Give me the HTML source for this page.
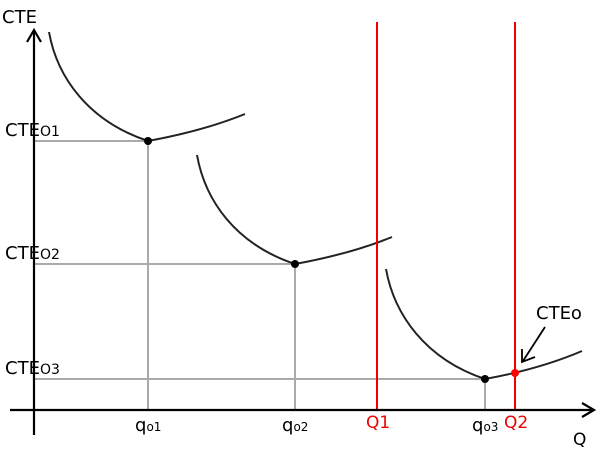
<!DOCTYPE html>
<html><head><meta charset="utf-8"><style>
body{margin:0;background:#fff}
svg{display:block}
text{font-family:"DejaVu Sans","Liberation Sans",sans-serif;}
</style></head><body>
<svg id="chart" width="600" height="450" viewBox="0 0 600 450">
<g id="grid"></g>
<g id="marks"></g>
<g id="axes">
  <line x1="34" y1="435" x2="34" y2="30" stroke="#000" stroke-width="2.2"/>
  <polyline points="27,42 34,30 41,42" fill="none" stroke="#000" stroke-width="2.2"/>
  <line x1="10" y1="410" x2="594" y2="410" stroke="#000" stroke-width="2.2"/>
  <polyline points="582,403 594,410 582,417" fill="none" stroke="#000" stroke-width="2.2"/>
  <text x="2" y="23" style="font-size:18px">CTE</text>
  <text x="573" y="445" style="font-size:17px">Q</text>
</g>
<g id="labels"></g>
<g>
  <text x="536" y="319" style="font-size:18px">CTEo</text>
  <line x1="545" y1="327" x2="523" y2="361" stroke="#000" stroke-width="1.8"/>
  <polyline points="522,349 522,362 535,357" fill="none" stroke="#000" stroke-width="1.8"/>
</g>
</svg>
<script>
const qMin = [114, 261, 451];
const cteMin = [269, 146, 31];
const qStart = [15, 163, 352];
const cteStart = [378, 255, 141];
const qEnd = [211, 358, 548];
const cteEnd = [296, 173, 59];
const cteLabels = ["CTE","CTE","CTE"];
const cteSubs = ["O1","O2","O3"];
const qSub = ["o1","o2","o3"];
const redQ = [343, 481];
const redLabels = ["Q1","Q2"];
const cteoValue = 37;

const X0 = 34, Y0 = 410;
const sx = v => X0 + v;
const sy = v => Y0 - v;
const NS = "http://www.w3.org/2000/svg";
function mk(tag, attrs, parent){const e=document.createElementNS(NS,tag);for(const k in attrs)e.setAttribute(k,attrs[k]);parent.appendChild(e);return e;}
const grid=document.getElementById('grid'), marks=document.getElementById('marks'), labels=document.getElementById('labels');

for(let i=0;i<qMin.length;i++){
  const mx=sx(qMin[i]), my=sy(cteMin[i]);
  const h=mk('line',{x1:X0,y1:my,x2:mx,y2:my,stroke:'#aaa','stroke-width':2},grid);
  
  
  const v=mk('line',{x1:mx,y1:my,x2:mx,y2:Y0,stroke:'#aaa','stroke-width':2},grid);
  
  
  const s0x=sx(qStart[i]), s0y=sy(cteStart[i]), ex=sx(qEnd[i]), ey=sy(cteEnd[i]);
  const d=`M${s0x},${s0y} C${s0x+8},${s0y+45} ${mx-60},${my-20} ${mx},${my} Q${mx+55},${my-10} ${ex},${ey}`;
  const p=mk('path',{d:d,fill:'none',stroke:'#222','stroke-width':2},marks);
  
  
  const c=mk('circle',{cx:mx,cy:my,r:4,fill:'#000'},marks);
  
  
  const t=mk('text',{x:5,y:my-5,style:'font-size:18px'},labels);
  
  
  t.textContent=cteLabels[i];
  const ts=mk('tspan',{style:'font-size:14px'},t);ts.textContent=cteSubs[i];
  const q=mk('text',{x:mx-13,y:431,style:'font-size:18px'},labels);
  
  
  q.textContent='q';
  const qs=mk('tspan',{style:'font-size:12px'},q);qs.textContent=qSub[i];
}
for(let i=0;i<redQ.length;i++){
  const x=sx(redQ[i]);
  const l=mk('line',{x1:x,y1:22,x2:x,y2:Y0,stroke:'#e00','stroke-width':2},marks);
  
  
  const t=mk('text',{x:x-11,y:428,style:'font-size:17px',fill:'#e00'},labels);
  
  
  t.textContent=redLabels[i];
}
const rd=mk('circle',{cx:sx(redQ[1]),cy:sy(cteoValue),r:4,fill:'#f00'},marks);


</script>
</body></html>
